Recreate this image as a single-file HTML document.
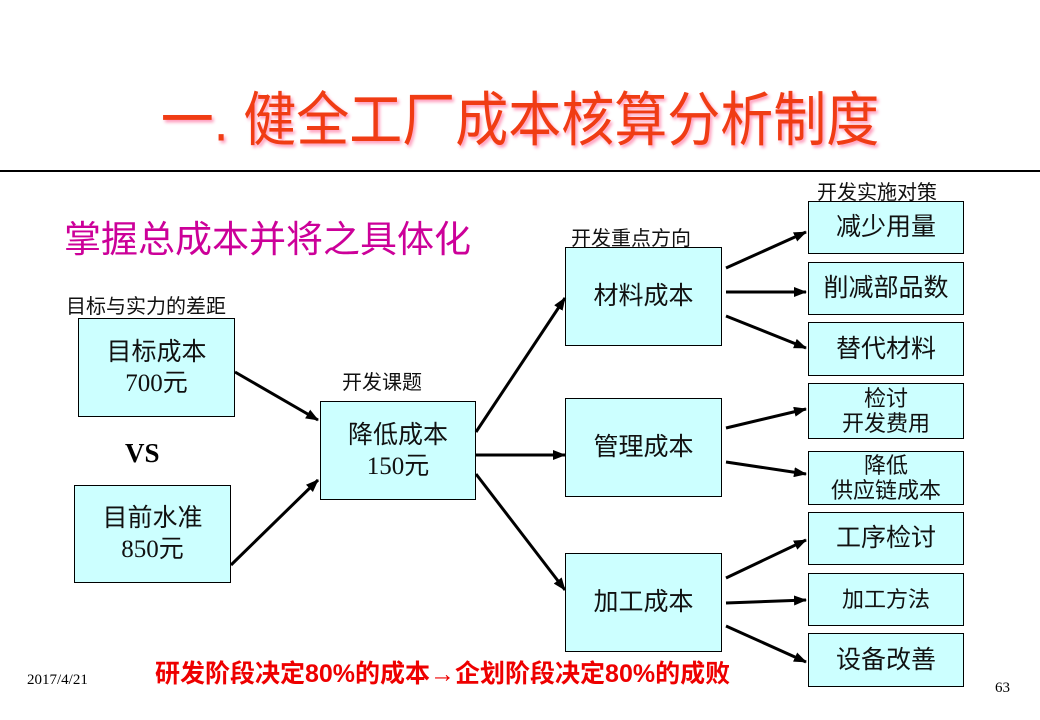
<!DOCTYPE html>
<html><head><meta charset="utf-8"><style>
body{margin:0;width:1040px;height:720px;background:#fff;position:relative;overflow:hidden;font-family:"Liberation Serif","Noto Serif CJK SC","Noto Sans CJK SC",serif;}
.a{position:absolute;white-space:nowrap;}
.b{position:absolute;background:#ccffff;border:1.5px solid #000;box-sizing:border-box;display:flex;align-items:center;justify-content:center;text-align:center;font-size:25px;line-height:31px;color:#111;font-family:"Liberation Serif","Noto Sans CJK SC",serif;}
.s{font-size:22px;line-height:25px;}
.l{font-size:20px;color:#111;font-family:"Liberation Sans","Noto Sans CJK SC",sans-serif;}
</style></head><body>
<div class="a" style="left:0;width:1040px;top:78px;text-align:center;font-size:53px;color:#f03c14;font-family:'Liberation Sans','Noto Sans CJK SC',sans-serif;text-shadow:2px 2px 3px #f9b;transform:scaleY(1.12);">一. 健全工厂成本核算分析制度</div>
<div class="a" style="left:0;top:170px;width:1040px;height:2px;background:#000;"></div>
<div class="a" style="left:64px;top:209px;font-size:37px;color:#cc0099;font-family:'Liberation Sans','Noto Sans CJK SC',sans-serif;">掌握总成本并将之具体化</div>
<div class="a l" style="left:66px;top:290px;">目标与实力的差距</div>
<div class="a l" style="left:342px;top:366px;">开发课题</div>
<div class="a l" style="left:571px;top:222px;">开发重点方向</div>
<div class="a l" style="left:817px;top:176px;">开发实施对策</div>
<div class="a" style="left:125px;top:438px;font-size:27px;font-weight:bold;">VS</div>
<div class="b" style="left:78px;top:318px;width:157px;height:99px;">目标成本<br>700元</div>
<div class="b" style="left:74px;top:485px;width:157px;height:98px;">目前水准<br>850元</div>
<div class="b" style="left:320px;top:401px;width:156px;height:99px;">降低成本<br>150元</div>
<div class="b" style="left:565px;top:247px;width:157px;height:99px;">材料成本</div>
<div class="b" style="left:565px;top:398px;width:157px;height:99px;">管理成本</div>
<div class="b" style="left:565px;top:553px;width:157px;height:99px;">加工成本</div>
<div class="b" style="left:808px;top:201px;width:156px;height:53px;">减少用量</div>
<div class="b" style="left:808px;top:262px;width:156px;height:53px;">削减部品数</div>
<div class="b" style="left:808px;top:322px;width:156px;height:54px;">替代材料</div>
<div class="b s" style="left:808px;top:383px;width:156px;height:56px;">检讨<br>开发费用</div>
<div class="b s" style="left:808px;top:451px;width:156px;height:54px;">降低<br>供应链成本</div>
<div class="b" style="left:808px;top:512px;width:156px;height:53px;">工序检讨</div>
<div class="b s" style="left:808px;top:573px;width:156px;height:53px;">加工方法</div>
<div class="b" style="left:808px;top:633px;width:156px;height:54px;">设备改善</div>
<svg class="a" style="left:0;top:0" width="1040" height="720">
<defs><marker id="m" markerWidth="13" markerHeight="10" refX="12" refY="5" orient="auto" markerUnits="userSpaceOnUse"><path d="M0,0L13,5L0,10z" fill="#000"/></marker></defs>
<g stroke="#000" stroke-width="3" marker-end="url(#m)">
<line x1="235" y1="372" x2="318" y2="420"/>
<line x1="231" y1="565" x2="318" y2="480"/>
<line x1="476" y1="432" x2="565" y2="298"/>
<line x1="476" y1="455" x2="565" y2="455"/>
<line x1="476" y1="474" x2="565" y2="590"/>
<line x1="726" y1="268" x2="806" y2="232"/>
<line x1="726" y1="292" x2="806" y2="292"/>
<line x1="726" y1="316" x2="806" y2="348"/>
<line x1="726" y1="428" x2="806" y2="409"/>
<line x1="726" y1="462" x2="806" y2="474"/>
<line x1="726" y1="578" x2="806" y2="540"/>
<line x1="726" y1="603" x2="806" y2="600"/>
<line x1="726" y1="626" x2="806" y2="662"/>
</g></svg>
<div class="a" style="left:155px;top:654px;font-size:25px;color:#e00;font-weight:bold;font-family:'Liberation Sans','Noto Sans CJK SC',sans-serif;">研发阶段决定80%的成本→企划阶段决定80%的成败</div>
<div class="a" style="left:27px;top:672px;font-size:15px;">2017/4/21</div>
<div class="a" style="left:995px;top:680px;font-size:15px;">63</div>
</body></html>
